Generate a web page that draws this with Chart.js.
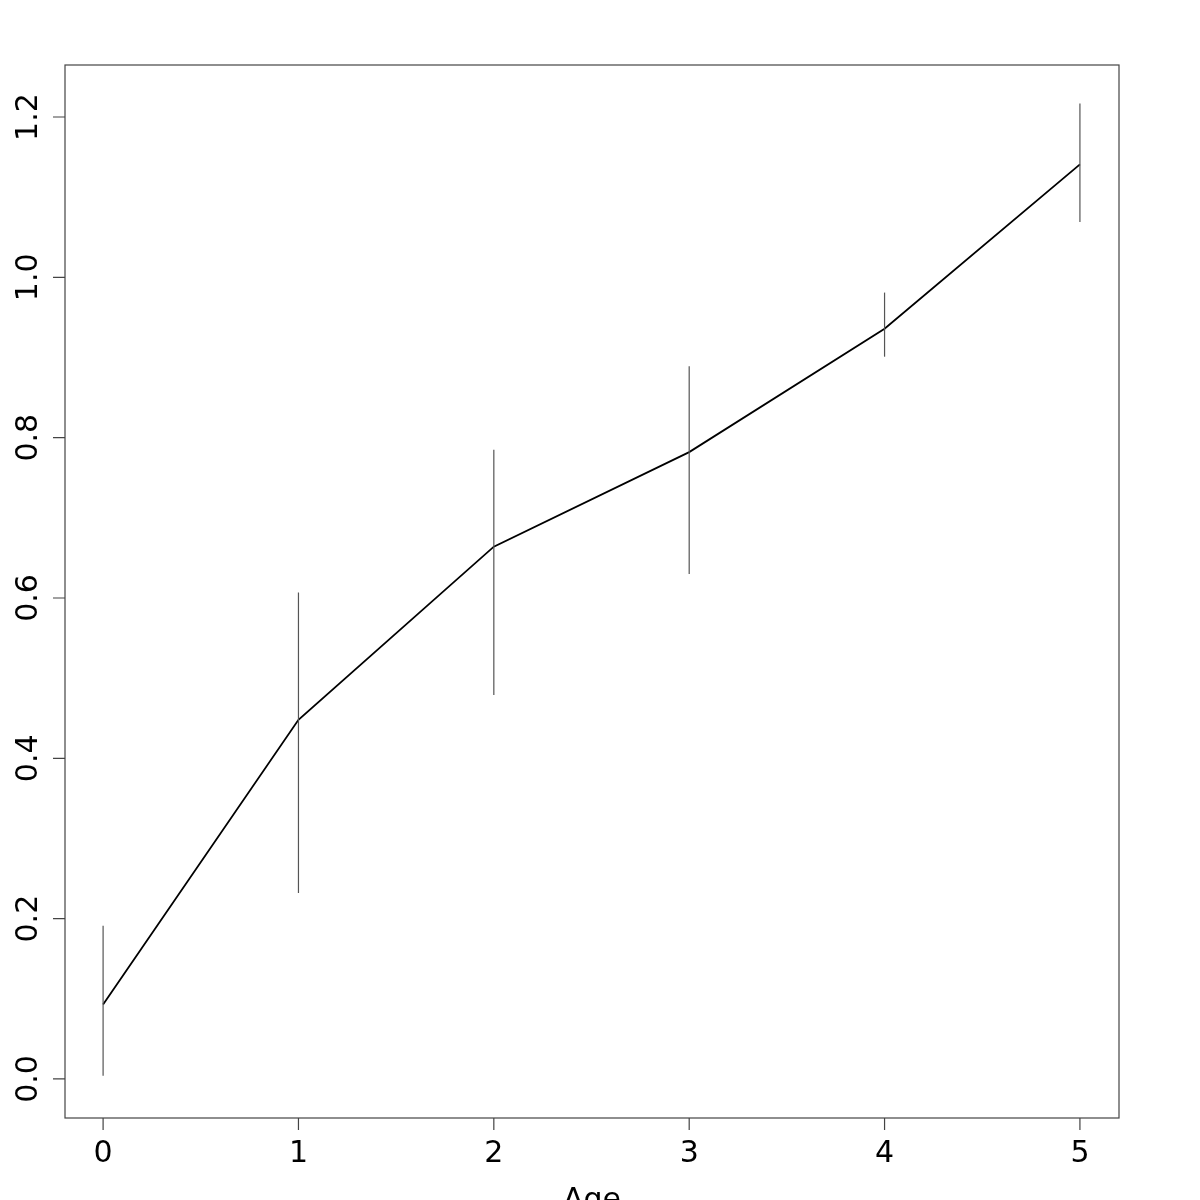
<!DOCTYPE html>
<html>
<head>
<meta charset="utf-8">
<script src="https://cdn.jsdelivr.net/npm/chart.js@4"></script>
<style>
html,body{margin:0;padding:0;background:#fff;}
#wrap{width:1200px;height:1200px;}
</style>
</head>
<body>
<div id="wrap"><canvas id="c" width="1200" height="1200"></canvas></div>
<script>
const ages = [0, 1, 2, 3, 4, 5];
const meanValues = [0.093, 0.448, 0.664, 0.782, 0.936, 1.141];
const upperValues = [0.191, 0.607, 0.785, 0.889, 0.981, 1.217];
const lowerValues = [0.004, 0.232, 0.479, 0.630, 0.901, 1.069];
const xTickLabels = ['0', '1', '2', '3', '4', '5'];
const yTickValues = [0.0, 0.2, 0.4, 0.6, 0.8, 1.0, 1.2];
const yTickLabels = ['0.0', '0.2', '0.4', '0.6', '0.8', '1.0', '1.2'];
const xAxisTitle = 'Age';

const FONT = '30px "DejaVu Sans", sans-serif';

const datasets = [];
ages.forEach((a, i) => {
  datasets.push({
    data: [{x: a, y: lowerValues[i]}, {x: a, y: upperValues[i]}],
    borderColor: '#555555',
    borderWidth: 1.2,
    pointRadius: 0,
    showLine: true,
    fill: false
  });
});
datasets.push({
  data: ages.map((a, i) => ({x: a, y: meanValues[i]})),
  borderColor: '#000',
  borderWidth: 1.8,
  pointRadius: 0,
  showLine: true,
  fill: false,
  tension: 0
});

const axesPlugin = {
  id: 'rAxes',
  afterDraw(chart) {
    const ctx = chart.ctx;
    const a = chart.chartArea;
    const xs = chart.scales.x, ys = chart.scales.y;
    ctx.save();
    ctx.strokeStyle = '#444444';
    ctx.lineWidth = 1.2;
    ctx.strokeRect(a.left, a.top, a.right - a.left, a.bottom - a.top);
    ctx.beginPath();
    ages.forEach(v => {
      const px = xs.getPixelForValue(v);
      ctx.moveTo(px, a.bottom);
      ctx.lineTo(px, a.bottom + 12);
    });
    yTickValues.forEach(v => {
      const py = ys.getPixelForValue(v);
      ctx.moveTo(a.left, py);
      ctx.lineTo(a.left - 12, py);
    });
    ctx.stroke();
    ctx.fillStyle = '#000';
    ctx.font = FONT;
    ctx.textAlign = 'center';
    ctx.textBaseline = 'alphabetic';
    ages.forEach((v, i) => {
      ctx.fillText(xTickLabels[i], xs.getPixelForValue(v), 1162);
    });
    yTickValues.forEach((v, i) => {
      const py = ys.getPixelForValue(v);
      ctx.save();
      ctx.translate(37, py);
      ctx.rotate(-Math.PI / 2);
      ctx.fillText(yTickLabels[i], 0, 0);
      ctx.restore();
    });
    ctx.fillText(xAxisTitle, (a.left + a.right) / 2, 1209);
    ctx.restore();
  }
};

new Chart(document.getElementById('c'), {
  type: 'scatter',
  data: { datasets },
  options: {
    responsive: false,
    animation: false,
    devicePixelRatio: 1,
    layout: { padding: { left: 65, right: 81, top: 65, bottom: 82 } },
    plugins: { legend: { display: false }, tooltip: { enabled: false } },
    scales: {
      x: { type: 'linear', display: false, min: -0.195, max: 5.2 },
      y: { type: 'linear', display: false, min: -0.0487, max: 1.2649 }
    }
  },
  plugins: [axesPlugin]
});
</script>
</body>
</html>
